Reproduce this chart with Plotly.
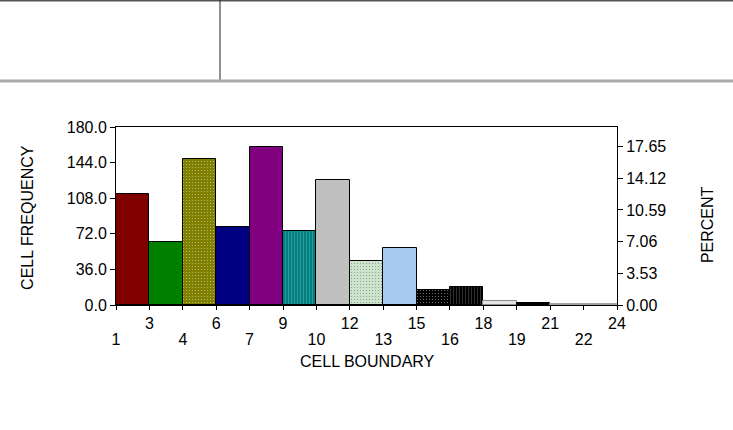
import plotly.graph_objects as go

# cell boundaries (15 cells between 1 and 24) and the count in each cell
boundaries = [1.0, 2.53, 4.07, 5.6, 7.13, 8.67, 10.2, 11.73, 13.27,
              14.8, 16.33, 17.87, 19.4, 20.93, 22.47, 24.0]
boundary_labels = ["1", "3", "4", "6", "7", "9", "10", "12", "13",
                   "15", "16", "18", "19", "21", "22", "24"]
frequency = [112, 64, 148, 79, 160, 75, 126, 44, 58, 15, 18, 4.5, 2.5, 0.6, 0.6]

freq_ticks = [0, 36, 72, 108, 144, 180]
percent_ticks = [0.00, 3.53, 7.06, 10.59, 14.12, 17.65]

bar_colors = ["#800000", "#008000", "#808000", "#000080", "#800080", "#008080",
              "#c0c0c0", "#cce3cc", "#a6caf0", "#000000", "#000000", "#e4e4e4",
              "#000000", "#a0a0a0", "#a0a0a0"]
bar_lines = ["#000000"] * 11 + ["#8a8a8a", "#000000", "#a0a0a0", "#a0a0a0"]
bar_patterns = ["", "", ".", "", "", "|", "", ".", "", ".", "|", "", "", "", ""]
pattern_fg = ["#000000", "#000000", "#6a6a00", "#000000", "#000000", "#006a6a",
              "#000000", "#b0c8b0", "#000000", "#222222", "#262626", "#000000",
              "#000000", "#000000", "#000000"]

centers = [(boundaries[i] + boundaries[i + 1]) / 2 for i in range(len(frequency))]
widths = [boundaries[i + 1] - boundaries[i] for i in range(len(frequency))]
total = sum(frequency)
percent = [v / total * 100 for v in frequency]

# boundary labels alternate between two rows
low_vals = boundaries[0::2]
low_text = boundary_labels[0::2]

font = dict(family="Liberation Sans, Arial, sans-serif", size=16, color="#000000")

fig = go.Figure()
fig.add_trace(go.Bar(
    x=centers, y=frequency, width=widths,
    marker=dict(color=bar_colors,
                line=dict(color=bar_lines, width=1),
                pattern=dict(shape=bar_patterns, fgcolor=pattern_fg,
                             size=3, solidity=0.12)),
    hoverinfo="skip", showlegend=False,
))
# invisible trace to carry the percent axis and the second label row
fig.add_trace(go.Scatter(
    x=centers, y=percent, xaxis="x2", yaxis="y2", mode="markers",
    marker=dict(opacity=0), hoverinfo="skip", showlegend=False,
))

fig.update_layout(
    width=733, height=430,
    margin=dict(l=116, r=116, t=127, b=125),
    paper_bgcolor="white", plot_bgcolor="white",
    font=font,
    bargap=0,
    xaxis=dict(range=[boundaries[0], boundaries[-1]],
               tickmode="array", tickvals=boundaries,
               ticktext=[lab if i % 2 else "" for i, lab in enumerate(boundary_labels)],
               ticks="outside", ticklen=4, tickcolor="#000000",
               showline=True, linecolor="#000000", linewidth=1, mirror=True,
               showgrid=False, zeroline=False, ticklabelstandoff=0),
    xaxis2=dict(range=[boundaries[0], boundaries[-1]], overlaying="x", anchor="y",
                side="bottom", tickmode="array", tickvals=low_vals, ticktext=low_text,
                ticks="", showline=False, showgrid=False, zeroline=False,
                ticklabelstandoff=23),
    yaxis=dict(range=[0, 180], tickmode="array", tickvals=freq_ticks,
               tickformat=".1f", ticks="outside", ticklen=5, tickcolor="#000000",
               showline=True, linecolor="#000000", linewidth=1,
               showgrid=False, zeroline=False),
    yaxis2=dict(range=[0, 180 / total * 100], overlaying="y", side="right", anchor="x",
                tickmode="array", tickvals=percent_ticks,
                ticktext=["%.2f" % v for v in percent_ticks],
                ticks="outside", ticklen=5, tickcolor="#000000",
                showline=True, linecolor="#000000", linewidth=1,
                showgrid=False, zeroline=False),
)

fig.add_annotation(text="CELL FREQUENCY", textangle=-90, x=-0.178, y=0.494,
                   xanchor="center", yanchor="middle",
                   xref="paper", yref="paper", showarrow=False, font=font)
fig.add_annotation(text="PERCENT", textangle=-90, x=1.182, y=0.45,
                   xanchor="center", yanchor="middle",
                   xref="paper", yref="paper", showarrow=False, font=font)
fig.add_annotation(text="CELL BOUNDARY", x=0.501, y=-0.315,
                   xanchor="center", yanchor="middle",
                   xref="paper", yref="paper", showarrow=False, font=font)

# header rules above the chart
fig.add_shape(type="line", xref="paper", yref="paper", x0=-0.24, x1=1.24,
              y0=1.711, y1=1.711, line=dict(color="#555555", width=2))
fig.add_shape(type="line", xref="paper", yref="paper", x0=0.2076, x1=0.2076,
              y0=1.713, y1=1.264, line=dict(color="#222222", width=1))
fig.add_shape(type="line", xref="paper", yref="paper", x0=-0.24, x1=1.24,
              y0=1.258, y1=1.258, line=dict(color="#aaaaaa", width=3))

fig.write_html("out.html", config={"displayModeBar": False},
               post_script="document.body.style.margin='0';")
